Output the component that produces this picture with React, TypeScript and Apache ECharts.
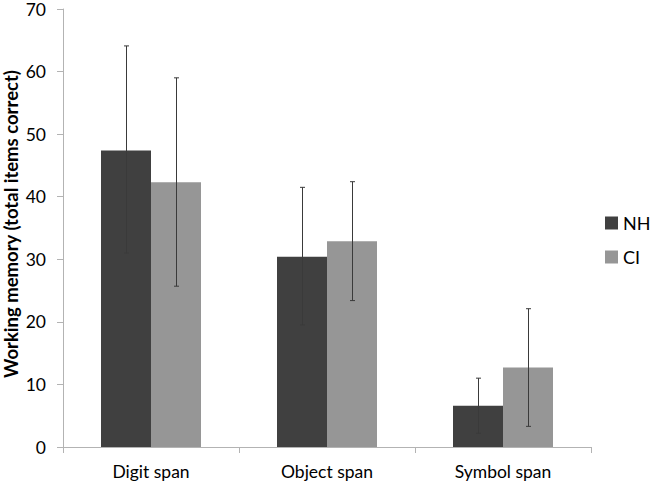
import React, { useEffect, useRef } from "react";
import * as echarts from "echarts";

const categories = ["Digit span", "Object span", "Symbol span"];
const nhValues = [47.4, 30.4, 6.6];
const ciValues = [42.3, 32.9, 12.7];
const nhLow = [31.0, 19.5, 2.2];
const nhHigh = [64.1, 41.5, 11.0];
const ciLow = [25.7, 23.4, 3.3];
const ciHigh = [59.0, 42.4, 22.1];
const seriesNames = ["NH", "CI"];

const FONT = "Lato";
const BAR_W = 50;

function errorSeries(low: number[], high: number[], offset: number) {
  return {
    type: "custom",
    silent: true,
    z: 5,
    data: low.map((l, i) => [i, l, high[i]]),
    renderItem: (params: any, api: any) => {
      const i = api.value(0);
      const lo = api.coord([i, api.value(1)]);
      const hi = api.coord([i, api.value(2)]);
      const x = Math.round(lo[0] + offset) + 0.5;
      const cap = 2.5;
      const style = { stroke: "#3a3a3a", lineWidth: 1 };
      return {
        type: "group",
        children: [
          { type: "line", shape: { x1: x, y1: lo[1], x2: x, y2: hi[1] }, style },
          { type: "line", shape: { x1: x - cap, y1: lo[1], x2: x + cap, y2: lo[1] }, style },
          { type: "line", shape: { x1: x - cap, y1: hi[1], x2: x + cap, y2: hi[1] }, style },
        ],
      };
    },
  };
}

export default function App() {
  const ref = useRef<HTMLDivElement>(null);
  useEffect(() => {
    if (!ref.current) return;
    const chart = echarts.init(ref.current, undefined, { renderer: "svg" });
    chart.setOption({
      animation: false,
      backgroundColor: "#ffffff",
      grid: { left: 63, right: 65, top: 9, bottom: 38, outerBoundsMode: "none", containLabel: false },
      legend: {
        orient: "vertical",
        left: 600,
        top: 209,
        icon: "rect",
        itemWidth: 13,
        itemHeight: 13,
        itemGap: 16,
        textStyle: { fontFamily: FONT, fontSize: 18, color: "#000" },
        data: seriesNames,
      },
      xAxis: {
        type: "category",
        data: categories,
        axisLine: { lineStyle: { color: "#b3b3b3" } },
        axisTick: { show: true, length: 6, interval: 0, lineStyle: { color: "#b3b3b3" } },
        axisLabel: { fontFamily: FONT, fontSize: 17.5, color: "#000", margin: 15 },
      },
      yAxis: {
        type: "value",
        min: 0,
        max: 70,
        interval: 10,
        name: "Working memory (total items correct)",
        nameLocation: "middle",
        nameGap: 43,
        nameMoveOverlap: false,
        nameTextStyle: {
          fontFamily: FONT,
          fontSize: 18.5,
          fontWeight: "bold",
          color: "#000",
          padding: [0, 0, 0, 8],
        },
        axisLine: { show: true, lineStyle: { color: "#b3b3b3" } },
        axisTick: { show: true, length: 6, lineStyle: { color: "#b3b3b3" } },
        splitLine: { show: false },
        axisLabel: { fontFamily: FONT, fontSize: 17.5, color: "#000", margin: 17 },
      },
      series: [
        {
          name: seriesNames[0],
          type: "bar",
          data: nhValues,
          barWidth: BAR_W,
          barGap: "0%",
          itemStyle: { color: "#404040" },
        },
        {
          name: seriesNames[1],
          type: "bar",
          data: ciValues,
          barWidth: BAR_W,
          barGap: "0%",
          itemStyle: { color: "#969696" },
        },
        errorSeries(nhLow, nhHigh, -BAR_W / 2),
        errorSeries(ciLow, ciHigh, BAR_W / 2),
      ],
    });
    return () => chart.dispose();
  }, []);
  return (
    <div
      ref={ref}
      style={{ position: "absolute", left: 0, top: 0, width: 656, height: 485 }}
    />
  );
}
